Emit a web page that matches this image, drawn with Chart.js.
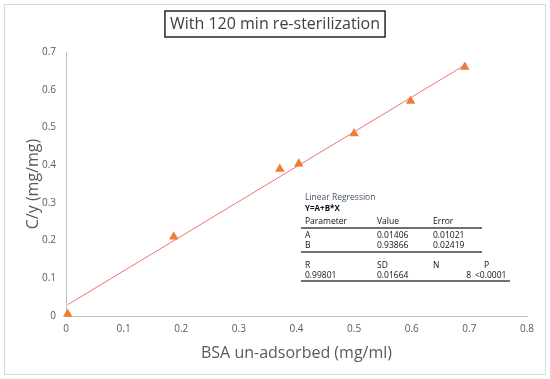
<!DOCTYPE html>
<html>
<head>
<meta charset="utf-8">
<style>
  html, body { margin: 0; padding: 0; background: #fff; }
  #wrap { width: 550px; height: 379px; position: relative; }
</style>
<script src="https://cdn.jsdelivr.net/npm/chart.js@4"></script>
</head>
<body>
<div id="wrap"><canvas id="chart" width="550" height="379"></canvas></div>
<script>
const bsaX = [0.003, 0.187, 0.371, 0.404, 0.500, 0.598, 0.692];
const cyY = [0.005, 0.210, 0.390, 0.404, 0.484, 0.570, 0.660];
const fitX = [0.003, 0.695];
const fitY = [0.030, 0.668];
const xTicks = [0, 0.1, 0.2, 0.3, 0.4, 0.5, 0.6, 0.7, 0.8];
const yTicks = [0, 0.1, 0.2, 0.3, 0.4, 0.5, 0.6, 0.7];

const regRows = [
    ['Parameter', 'Value', 'Error', ''],
    ['A', '0.01406', '0.01021', ''],
    ['B', '0.93866', '0.02419', ''],
    ['R', 'SD', 'N', 'P'],
    ['0.99801', '0.01664', '8', '<0.0001']
];

const frame = {
    id: 'frame',
    beforeDraw(chart) {
        const c = chart.ctx;
        c.save();
        c.fillStyle = '#fff';
        c.fillRect(0, 0, chart.width, chart.height);
        c.strokeStyle = '#d9d9d9';
        c.lineWidth = 1;
        c.strokeRect(4.5, 4.5, 541, 370);
        c.restore();
    },
    afterDraw(chart) {
        const c = chart.ctx;
        c.save();
        // title box
        c.font = '16px "Open Sans"';
        c.textAlign = 'center';
        c.textBaseline = 'middle';
        c.fillStyle = '#404040';
        const t = 'With 120 min re-sterilization';
        const w = c.measureText(t).width;
        c.fillText(t, 275, 24);
        c.strokeStyle = '#262626';
        c.lineWidth = 1.5;
        c.strokeRect(275 - w / 2 - 5, 11, w + 10, 26);

        // regression table
        const x0 = 305, cols = [305, 377, 433, 484];
        c.textAlign = 'left';
        c.font = '8.5px "Open Sans"';
        c.fillStyle = '#44546a';
        c.fillText('Linear Regression', x0, 198);
        c.fillStyle = '#111';
        c.font = 'bold 8px "Open Sans"';
        c.fillText('Y=A+B*X', x0, 209);
        c.font = '8.5px "Open Sans"';
        const rowY = [222, 236, 246, 266, 276];
        regRows.forEach((r, i) => {
            r.forEach((s, j) => {
                if (!s) return;
                if (i === 4 && j === 2) {
                    c.textAlign = 'right';
                    c.fillText(s, 471, rowY[i]);
                    c.textAlign = 'left';
                } else if (i === 4 && j === 3) {
                    c.fillText(s, 475, rowY[i]);
                } else {
                    c.fillText(s, cols[j], rowY[i]);
                }
            });
        });
        c.strokeStyle = '#404040';
        c.lineWidth = 1.5;
        [[228, 482], [252, 482], [281, 510]].forEach(([y, x1]) => {
            c.beginPath();
            c.moveTo(301, y);
            c.lineTo(x1, y);
            c.stroke();
        });
        c.restore();
    }
};

new Chart(document.getElementById('chart'), {
    type: 'scatter',
    data: {
        datasets: [
            {
                label: 'fit',
                type: 'line',
                data: fitX.map((x, i) => ({ x: x, y: fitY[i] })),
                borderColor: '#ee7470',
                borderWidth: 1,
                pointRadius: 0,
                fill: false
            },
            {
                label: 'C/y',
                data: bsaX.map((x, i) => ({ x: x, y: cyY[i] })),
                pointStyle: 'triangle',
                pointRadius: 5.5,
                backgroundColor: '#ed7d31',
                borderColor: '#ed7d31',
                borderWidth: 0
            }
        ]
    },
    plugins: [frame],
    options: {
        responsive: false,
        animation: false,
        clip: false,
        layout: { padding: { top: 52, right: 23, left: 6, bottom: 6 } },
        plugins: {
            legend: { display: false },
            tooltip: { enabled: false }
        },
        scales: {
            x: {
                type: 'linear',
                min: 0,
                max: 0.8,
                afterBuildTicks: (s) => { s.ticks = xTicks.map(v => ({ value: v })); },
                afterFit: (s) => { s.height = 57; },
                grid: { display: false, drawTicks: false },
                border: { color: '#bfbfbf', width: 1 },
                ticks: {
                    padding: 7,
                    color: '#595959',
                    font: { family: '"Open Sans"', size: 10 },
                    callback: (v) => String(Math.round(v * 10) / 10)
                },
                title: {
                    display: true,
                    text: 'BSA un-adsorbed (mg/ml)',
                    color: '#595959',
                    font: { family: '"Open Sans"', size: 16 },
                    padding: { top: 4, bottom: 10 }
                }
            },
            y: {
                type: 'linear',
                min: 0,
                max: 0.7,
                afterBuildTicks: (s) => { s.ticks = yTicks.map(v => ({ value: v })); },
                afterFit: (s) => { s.width = 60; },
                grid: { display: false, drawTicks: false },
                border: { color: '#bfbfbf', width: 1 },
                ticks: {
                    padding: 10,
                    color: '#595959',
                    font: { family: '"Open Sans"', size: 10 },
                    callback: (v) => String(Math.round(v * 10) / 10)
                },
                title: {
                    display: true,
                    text: 'C/y (mg/mg)',
                    color: '#595959',
                    font: { family: '"Open Sans"', size: 16 },
                    padding: { top: 18, bottom: 0 }
                }
            }
        }
    }
});
</script>
</body>
</html>
